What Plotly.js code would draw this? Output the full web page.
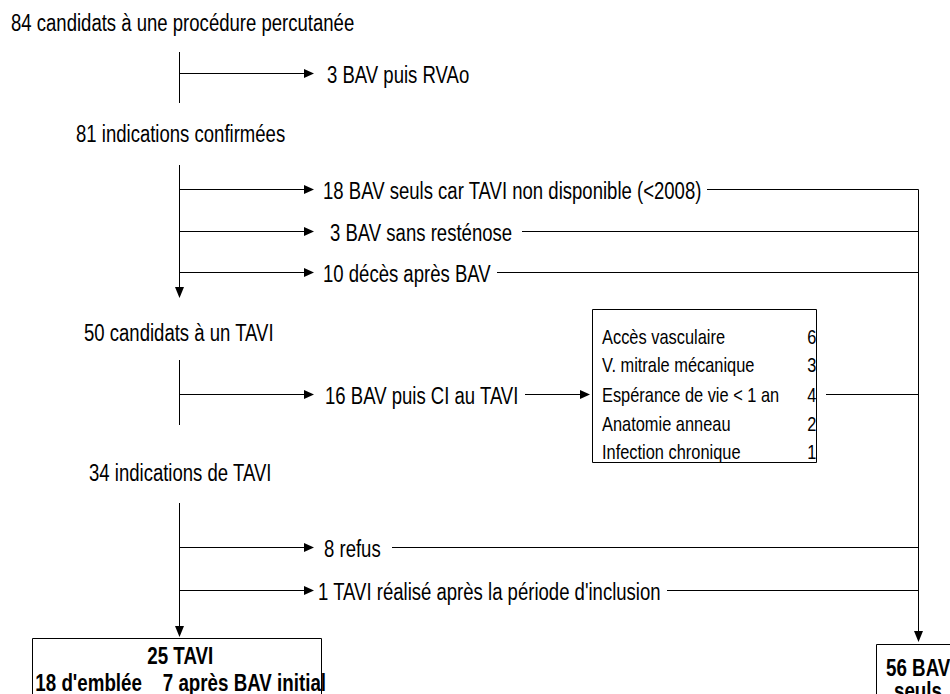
<!DOCTYPE html>
<html><head><meta charset="utf-8">
<script src="https://cdn.plot.ly/plotly-3.0.1.min.js"></script>
<style>html,body{margin:0;padding:0;background:#fff}#chart{width:950px;height:694px}</style>
</head><body><div id="chart"></div>
<script>
// ---- data ----
const stageCounts = [84, 81, 50, 34];
const stageLabels = ["candidats à une procédure percutanée", "indications confirmées", "candidats à un TAVI", "indications de TAVI"];
const exclCounts = [3, 18, 3, 10, 16, 8, 1];
const exclLabels = ["BAV puis RVAo", "BAV seuls car TAVI non disponible (<2008)", "BAV sans resténose", "décès après BAV", "BAV puis CI au TAVI", "refus", "TAVI réalisé après la période d'inclusion"];
const ciReasons = ["Accès vasculaire", "V. mitrale mécanique", "Espérance de vie < 1 an", "Anatomie anneau", "Infection chronique"];
const ciCounts = [6, 3, 4, 2, 1];
const taviTotal = 25, taviDirect = 18, taviAfterBav = 7;
const bavOnly = 56;

// ---- layout positions (pixels) ----
const P = {
  stageX: [10, 75, 83, 88], stageY: [23, 134, 333, 473],
  trunkX: 179.5,
  trunks: [[52, 103, false], [165, 298, true], [360, 425, false], [503, 637, true]],
  exclY: [73.5, 189.5, 231.5, 272.5, 394.5, 547.5, 590.5],
  tip: 314, textX: [326, 322, 329, 322, 324, 323, 317],
  contStart: [null, 707, 522, 497, 826, 392, 667],
  rightX: 918.5, rightTop: 189.5, rightTip: 642,
  ciArrow: [525, 590],
  box: [592.5, 309.5, 816.5, 462.5], boxTextX: 601, boxNumX: 817, boxRowY: [336, 364, 394, 423, 451],
  taviBox: [32.5, 638.5, 321.5, 720], taviCx: 180, taviY: [656, 683],
  bavBox: [876.5, 644.5, 990, 720], bavCx: 918, bavY: [668, 691]
};

const FONT = '"Liberation Sans", Arial, sans-serif';
const K = 0.8; // horizontal squeeze to mimic a narrow face
const ctx = document.createElement('canvas').getContext('2d');
function fit(str, target, weight) {
  ctx.font = (weight ? weight + ' ' : '') + '100px ' + FONT;
  return 100 * target / ctx.measureText(str).width / K;
}
const S = (fit("81 indications confirmées", 210) + fit("84 candidats à une procédure percutanée", 340) + fit("16 BAV puis CI au TAVI", 195)) / 3;
const SB = fit("Accès vasculaire", 123);
const SBold = fit("25 TAVI", 66, 'bold');
const esc = s => s.replace(/&/g, '&amp;').replace(/</g, '&lt;').replace(/>/g, '&gt;');

const shapes = [];
const ann = [];
const LC = '#000';
function line(x0, y0, x1, y1) { shapes.push({type: 'line', xref: 'x', yref: 'y', x0, y0, x1, y1, line: {color: LC, width: 1}}); }
function headR(x, y) { shapes.push({type: 'path', xref: 'x', yref: 'y', path: `M${x},${y} L${x-10},${y-4.5} L${x-10},${y+4.5} Z`, fillcolor: LC, line: {width: 0}}); }
function headD(x, y) { shapes.push({type: 'path', xref: 'x', yref: 'y', path: `M${x},${y} L${x-4.5},${y-11} L${x+4.5},${y-11} Z`, fillcolor: LC, line: {width: 0}}); }
function text(t, x, y, size, anchor, bold) {
  anchor = anchor || 'left';
  ann.push({xref: 'x', yref: 'y', x, y, text: bold ? '<b>' + t + '</b>' : t, showarrow: false, xanchor: anchor, align: anchor, yanchor: 'middle',
    font: {family: FONT, size, color: '#000'}, borderpad: 0});
}

stageCounts.forEach((c, i) => text(c + ' ' + esc(stageLabels[i]), P.stageX[i], P.stageY[i], S));
P.trunks.forEach(([a, b, arrow]) => { line(P.trunkX, a, P.trunkX, arrow ? b - 10 : b); if (arrow) headD(P.trunkX, b); });
exclCounts.forEach((c, i) => {
  const y = P.exclY[i];
  line(P.trunkX, y, P.tip - 9, y); headR(P.tip, y);
  text(c + ' ' + esc(exclLabels[i]), P.textX[i], y + 1, S);
  if (P.contStart[i] !== null) line(P.contStart[i], y, P.rightX, y);
});
line(P.ciArrow[0], P.exclY[4], P.ciArrow[1] - 9, P.exclY[4]); headR(P.ciArrow[1], P.exclY[4]);
shapes.push({type: 'rect', xref: 'x', yref: 'y', x0: P.box[0], y0: P.box[1], x1: P.box[2], y1: P.box[3], line: {color: LC, width: 1}, fillcolor: 'rgba(0,0,0,0)'});
ciReasons.forEach((r, i) => {
  text(esc(r), P.boxTextX, P.boxRowY[i], SB);
  text(String(ciCounts[i]), P.boxNumX, P.boxRowY[i], SB, 'right');
});
line(P.rightX, P.rightTop, P.rightX, P.rightTip - 10); headD(P.rightX, P.rightTip);
shapes.push({type: 'rect', xref: 'x', yref: 'y', x0: P.taviBox[0], y0: P.taviBox[1], x1: P.taviBox[2], y1: P.taviBox[3], line: {color: LC, width: 1}, fillcolor: 'rgba(0,0,0,0)'});
text(taviTotal + ' TAVI', P.taviCx, P.taviY[0], SBold, 'center', true);
text(taviDirect + " d'emblée\u00a0\u00a0\u00a0\u00a0" + taviAfterBav + " après BAV initial", P.taviCx, P.taviY[1], SBold, 'center', true);
shapes.push({type: 'rect', xref: 'x', yref: 'y', x0: P.bavBox[0], y0: P.bavBox[1], x1: P.bavBox[2], y1: P.bavBox[3], line: {color: LC, width: 1}, fillcolor: 'rgba(0,0,0,0)'});
text(bavOnly + ' BAV', P.bavCx, P.bavY[0], SBold, 'center', true);
text('seuls', P.bavCx, P.bavY[1], SBold, 'center', true);

const ax = {range: [0, 950], visible: false, showgrid: false, zeroline: false, fixedrange: true};
Plotly.newPlot('chart', [], {
  width: 950, height: 694, margin: {l: 0, r: 0, t: 0, b: 0},
  paper_bgcolor: '#fff', plot_bgcolor: '#fff',
  xaxis: ax, yaxis: Object.assign({}, ax, {range: [694, 0]}),
  shapes, annotations: ann, showlegend: false
}, {staticPlot: true}).then(gd => {
  gd.querySelectorAll('text.annotation-text').forEach(t => {
    const w = t.getComputedTextLength();
    if (w > 0) { t.setAttribute('textLength', (w * K).toFixed(1)); t.setAttribute('lengthAdjust', 'spacingAndGlyphs'); }
  });
});
</script></body></html>
